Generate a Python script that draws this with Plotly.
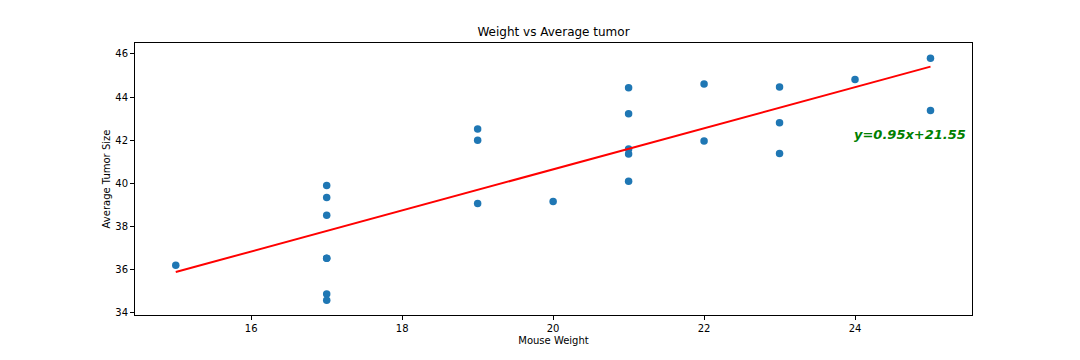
import plotly.graph_objects as go

# Mouse weight (g) per mouse, Capomulin regimen
mouse_weight = [22, 21, 17, 19, 22, 24, 20, 23, 21, 21, 19, 17, 19, 25, 17, 25, 17, 23, 17, 17, 21, 23, 21, 15, 17]
# Average tumor volume per mouse
avg_tumor = [41.96, 40.08, 36.51, 41.99, 44.61, 44.81, 39.14, 44.47, 43.22, 44.43,
             42.51, 34.85, 39.05, 45.80, 36.51, 43.37, 34.56, 42.80, 39.33, 39.89,
             41.58, 41.38, 41.35, 36.18, 38.51]

# Linear regression parameters (as shown in the chart label)
fit_slope = 0.9544
fit_intercept = 21.5522

x_ticks = [16, 18, 20, 22, 24]
y_ticks = [34, 36, 38, 40, 42, 44, 46]

fit_x = sorted(mouse_weight)
fit_y = [fit_slope * w + fit_intercept for w in fit_x]
eq_label = f"y={fit_slope:.2f}x+{fit_intercept:.2f}"

font = "DejaVu Sans"

fig = go.Figure()
fig.add_trace(go.Scatter(x=mouse_weight, y=avg_tumor, mode="markers",
                         marker=dict(color="#1f77b4", size=7.5, line=dict(width=0)),
                         showlegend=False))
fig.add_trace(go.Scatter(x=fit_x, y=fit_y, mode="lines",
                         line=dict(color="red", width=2), showlegend=False))

fig.add_annotation(x=24, y=42, xref="x", yref="y", text=eq_label, showarrow=False,
                   xanchor="left", yanchor="bottom", xshift=-3, yshift=-4,
                   font=dict(family=font, size=13, color="green", weight="bold", style="italic"))

axis_common = dict(showline=True, linecolor="black", linewidth=1, mirror=True,
                   ticks="outside", ticklen=4, tickcolor="black", tickwidth=1,
                   showgrid=False, zeroline=False,
                   tickfont=dict(family=font, size=10, color="black"))

# page body adds an 8px offset at top-left, so the figure is 8px smaller
fig.update_layout(
    width=1072, height=352,
    margin=dict(l=127, r=108, t=35, b=45),
    plot_bgcolor="white", paper_bgcolor="white",
    title=dict(text="Weight vs Average tumor", x=0.5, xref="paper", xanchor="center",
               y=1 - 24 / 352, yref="container", yanchor="middle",
               font=dict(family=font, size=12, color="black")),
    xaxis=dict(range=[14.46, 25.55], tickvals=x_ticks, **axis_common,
               title=dict(text="Mouse Weight", standoff=3,
                          font=dict(family=font, size=10, color="black"))),
    yaxis=dict(range=[33.87, 46.51], tickvals=y_ticks, **axis_common,
               title=dict(text="Average Tumor Size", standoff=2,
                          font=dict(family=font, size=10, color="black"))),
)

fig.write_html("out.html")
